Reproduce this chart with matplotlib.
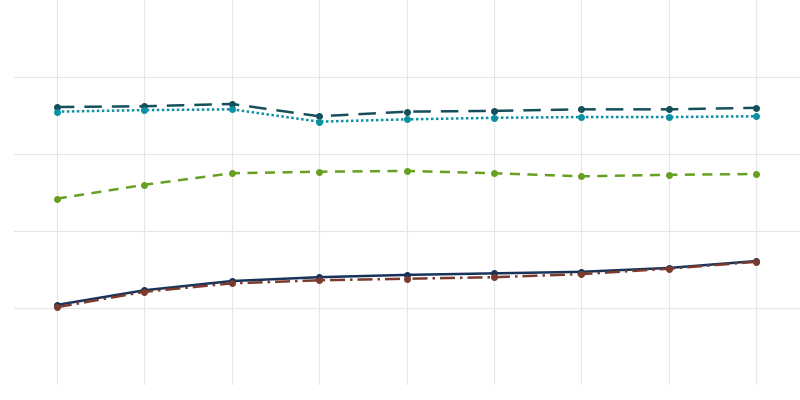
import matplotlib
matplotlib.use("Agg")
import matplotlib.pyplot as plt

x = list(range(9))
s_teal = [3.61, 3.62, 3.65, 3.49, 3.55, 3.56, 3.58, 3.58, 3.60]
s_cyan = [3.55, 3.57, 3.58, 3.42, 3.45, 3.47, 3.48, 3.48, 3.49]
s_green = [2.42, 2.60, 2.75, 2.77, 2.78, 2.75, 2.71, 2.73, 2.74]
s_navy = [1.04, 1.23, 1.35, 1.40, 1.43, 1.45, 1.47, 1.52, 1.61]
s_brown = [1.01, 1.21, 1.32, 1.36, 1.38, 1.40, 1.44, 1.51, 1.60]

fig = plt.figure(figsize=(8, 4), dpi=100)
ax = fig.add_axes([14/800, 15/400, 786/800, 385/400])
kw = dict(marker='o', markersize=4, linewidth=1.8)
ax.plot(x, s_teal, color='#15505a', linestyle=(0, (7, 4)), **kw)
ax.plot(x, s_cyan, color='#0a8fa3', linestyle=(0, (1, 1)), **kw)
ax.plot(x, s_green, color='#67a020', linestyle=(0, (4, 3)), **kw)
ax.plot(x, s_navy, color='#17335a', linestyle='-', **kw)
ax.plot(x, s_brown, color='#7b3a2c', linestyle=(0, (6, 2, 1, 2)), **kw)
ax.set_xlim(-0.49, 8.5)
ax.set_ylim(0, 5)
ax.set_xticks(x)
ax.set_yticks([1, 2, 3, 4])
ax.grid(True, color='#e6e6e6', linewidth=0.8)
ax.set_axisbelow(True)
ax.tick_params(length=0, labelbottom=False, labelleft=False)
for sp in ax.spines.values():
    sp.set_visible(False)
fig.savefig("out.png", dpi=100)
